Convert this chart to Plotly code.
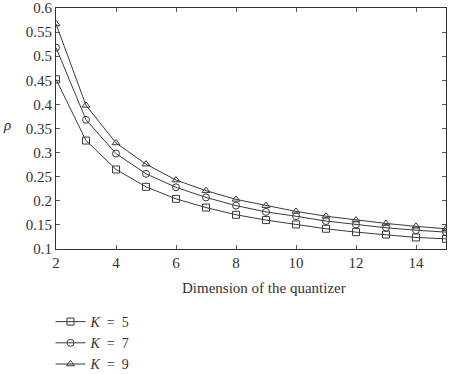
import plotly.graph_objects as go

dims = list(range(2, 16))
k5 = [0.452, 0.325, 0.265, 0.229, 0.204, 0.186, 0.171, 0.160, 0.151, 0.142, 0.135, 0.130, 0.124, 0.121]
k7 = [0.518, 0.368, 0.298, 0.256, 0.228, 0.207, 0.190, 0.177, 0.168, 0.158, 0.151, 0.144, 0.139, 0.135]
k9 = [0.567, 0.398, 0.320, 0.276, 0.243, 0.221, 0.203, 0.190, 0.178, 0.168, 0.160, 0.153, 0.147, 0.142]
labels = ["<i>K</i>\u2002=\u20025", "<i>K</i>\u2002=\u20027", "<i>K</i>\u2002=\u20029"]
symbols = ["square-open", "circle-open", "triangle-up-open"]
xticks = [2, 4, 6, 8, 10, 12, 14]
yticks = [0.1, 0.15, 0.2, 0.25, 0.3, 0.35, 0.4, 0.45, 0.5, 0.55, 0.6]

col = "#3a3a3a"
fig = go.Figure()
for ys, lab, sym in zip([k5, k7, k9], labels, symbols):
    fig.add_trace(go.Scatter(
        x=dims, y=ys, mode="lines+markers", name=lab,
        line=dict(color=col, width=1),
        marker=dict(symbol=sym, size=7, color=col, line=dict(width=1, color=col)),
    ))

W, H = 449, 374
L, R, T, B = 55.5, 3, 8, 125
pw = W - L - R
ph = H - T - B

axis_common = dict(
    showline=True, linecolor="#333", linewidth=1, mirror="ticks",
    ticks="inside", ticklen=4, tickcolor="#555", showgrid=False, zeroline=False,
    tickfont=dict(family="Liberation Serif", size=15, color="#333"),
)
fig.update_xaxes(range=[2, 15], tickvals=xticks, ticktext=[str(v) for v in xticks], **axis_common)
fig.update_yaxes(range=[0.1, 0.6], tickvals=yticks, ticktext=[f"{v:g}" for v in yticks], **axis_common)

fig.add_annotation(text="Dimension of the quantizer", xref="paper", yref="paper",
                   x=(264 - L) / pw, y=-(288 - 249) / ph, xanchor="center", yanchor="middle",
                   showarrow=False, font=dict(family="Liberation Serif", size=15, color="#333"))
fig.add_annotation(text="<i>ρ</i>", xref="paper", yref="paper",
                   x=(0 - L) / pw, y=(249 - 125) / ph,
                   xanchor="left", yanchor="middle",
                   showarrow=False, font=dict(family="Liberation Serif", size=15, color="#333"))

fig.update_layout(
    width=W, height=H, margin=dict(l=L, r=R, t=T, b=B, autoexpand=False),
    paper_bgcolor="white", plot_bgcolor="white",
    showlegend=True,
    legend=dict(x=(50 - L) / pw, y=-(306 - 249) / ph, xanchor="left", yanchor="top",
                font=dict(family="Liberation Serif", size=14, color="#333"),
                bgcolor="rgba(0,0,0,0)", tracegroupgap=0, itemwidth=30),
)
fig.write_html("out.html")
